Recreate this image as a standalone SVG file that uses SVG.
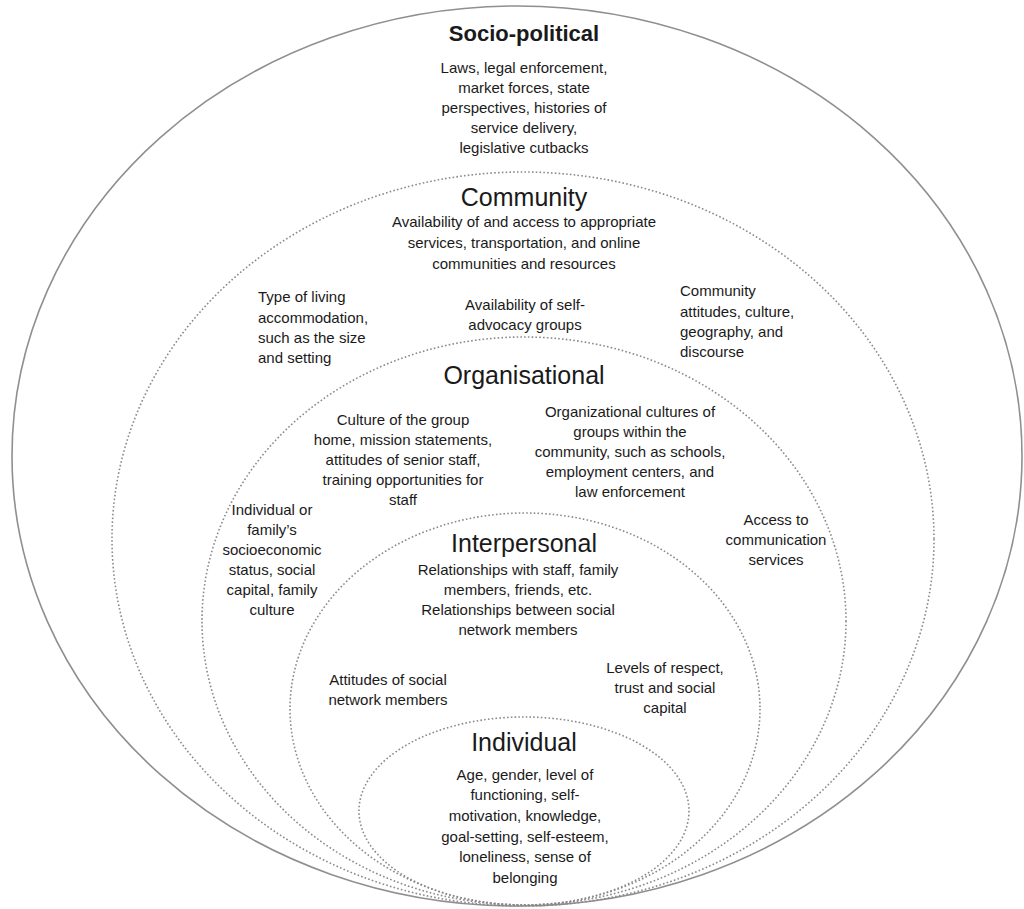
<svg xmlns="http://www.w3.org/2000/svg" width="1024" height="909" viewBox="0 0 1024 909">
<style>
.ring{fill:none;stroke:#8a8a8a;stroke-width:1.6;stroke-dasharray:1.6 2.2}
.outer{fill:none;stroke:#8f8f8f;stroke-width:1.6}
text{font-family:"Liberation Sans",Arial,sans-serif;fill:#1a1a1a}
.t{font-size:25px;text-anchor:middle}
.tb{font-size:22px;font-weight:bold;text-anchor:middle}
.b{font-size:15px;text-anchor:middle}
.l{font-size:15px;text-anchor:start}
</style>
<rect width="1024" height="909" fill="#fff"/>
<g id="connectors"></g>
<g id="socio-political">
<ellipse class="outer" cx="517" cy="456" rx="505" ry="450"/>
<text class="tb" x="524" y="41">Socio-political</text>
<text class="b" x="524" y="73">Laws, legal enforcement,</text>
<text class="b" x="524" y="93">market forces, state</text>
<text class="b" x="524" y="113">perspectives, histories of</text>
<text class="b" x="524" y="133">service delivery,</text>
<text class="b" x="524" y="153">legislative cutbacks</text>
</g>
<g id="community">
<ellipse class="ring" cx="523" cy="539" rx="411" ry="367"/>
<text class="t" x="524" y="206">Community</text>
<text class="b" x="524" y="227">Availability of and access to appropriate</text>
<text class="b" x="524" y="248">services, transportation, and online</text>
<text class="b" x="524" y="269">communities and resources</text>
<text class="l" x="258" y="302">Type of living</text>
<text class="l" x="258" y="323">accommodation,</text>
<text class="l" x="258" y="343">such as the size</text>
<text class="l" x="258" y="363">and setting</text>
<text class="b" x="525" y="310">Availability of self-</text>
<text class="b" x="525" y="330">advocacy groups</text>
<text class="l" x="680" y="296">Community</text>
<text class="l" x="680" y="317">attitudes, culture,</text>
<text class="l" x="680" y="337">geography, and</text>
<text class="l" x="680" y="357">discourse</text>
</g>
<g id="organisational">
<ellipse class="ring" cx="524" cy="621" rx="322" ry="284"/>
<text class="t" x="524" y="384">Organisational</text>
<text class="b" x="403" y="425">Culture of the group</text>
<text class="b" x="403" y="445">home, mission statements,</text>
<text class="b" x="403" y="465">attitudes of senior staff,</text>
<text class="b" x="403" y="485">training opportunities for</text>
<text class="b" x="403" y="505">staff</text>
<text class="b" x="630" y="417">Organizational cultures of</text>
<text class="b" x="630" y="437">groups within the</text>
<text class="b" x="630" y="457">community, such as schools,</text>
<text class="b" x="630" y="477">employment centers, and</text>
<text class="b" x="630" y="497">law enforcement</text>
<text class="b" x="272" y="515">Individual or</text>
<text class="b" x="272" y="535">family’s</text>
<text class="b" x="272" y="555">socioeconomic</text>
<text class="b" x="272" y="575">status, social</text>
<text class="b" x="272" y="595">capital, family</text>
<text class="b" x="272" y="615">culture</text>
<text class="b" x="776" y="525">Access to</text>
<text class="b" x="776" y="545">communication</text>
<text class="b" x="776" y="565">services</text>
</g>
<g id="interpersonal">
<ellipse class="ring" cx="525" cy="709" rx="235" ry="196"/>
<text class="t" x="524" y="552">Interpersonal</text>
<text class="b" x="518" y="575">Relationships with staff, family</text>
<text class="b" x="518" y="595">members, friends, etc.</text>
<text class="b" x="518" y="615">Relationships between social</text>
<text class="b" x="518" y="635">network members</text>
<text class="b" x="388" y="685">Attitudes of social</text>
<text class="b" x="388" y="705">network members</text>
<text class="b" x="665" y="673">Levels of respect,</text>
<text class="b" x="665" y="693">trust and social</text>
<text class="b" x="665" y="713">capital</text>
</g>
<g id="individual">
<ellipse class="ring" cx="524" cy="811" rx="165" ry="94"/>
<text class="t" x="524" y="751">Individual</text>
<text class="b" x="525" y="780">Age, gender, level of</text>
<text class="b" x="525" y="800">functioning, self-</text>
<text class="b" x="525" y="821">motivation, knowledge,</text>
<text class="b" x="525" y="842">goal-setting, self-esteem,</text>
<text class="b" x="525" y="862">loneliness, sense of</text>
<text class="b" x="525" y="883">belonging</text>
</g>
</svg>
